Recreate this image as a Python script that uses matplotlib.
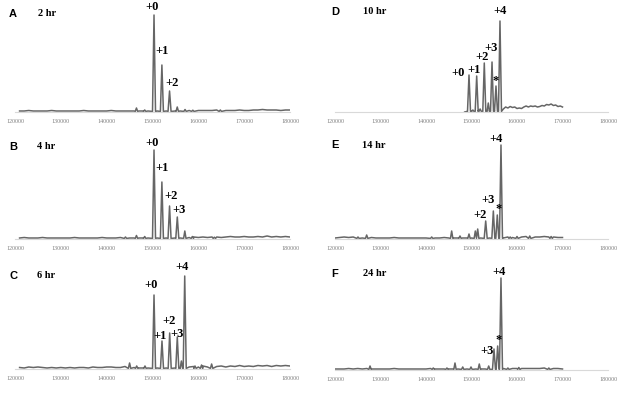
import numpy as np
import matplotlib.pyplot as plt

# ---- data (intensity in px above baseline) ----
a_peak_mass = [150330, 152050, 153720, 146500, 148300, 155400, 157100, 158800, 164800]
a_peak_h = [97, 47, 21, 4, 2, 5, 2.5, 1.8, 2]
a_base = [1, 1, 1.5, 1, 1, 1, 1, 1.5, 1, 1,
          1, 1, 1, 1, 1.5, 1, 1, 1, 1, 1,
          1.5, 1, 1, 1, 1, 1, 1, 1, 1, 1,
          1, 1, 1, 1, 1, 1, 1, 1.5, 1.5, 1.5,
          1.5, 1.5, 1.5, 2, 2.5, 1.5, 1.5, 1.5, 2, 1.5,
          1.5, 2, 2, 2.5, 2, 2, 2, 1.5, 2, 2]

b_peak_mass = [150330, 152050, 153720, 155410, 157050, 158700, 148300, 146500, 144100, 163500]
b_peak_h = [89, 57, 33, 22, 8, 2.5, 2.5, 3.5, 2, 1.8]
b_base = [1, 1.5, 1, 1, 1, 1.5, 1, 1, 1, 1,
          1, 1, 1.5, 1, 1, 1, 1, 1, 1.5, 1,
          1, 1, 1.5, 1, 1, 1, 1, 1, 1, 1,
          1, 1, 1, 1, 1, 1, 1, 1.5, 2, 1.5,
          2, 1.5, 2, 2, 1.5, 2, 2.5, 2, 2, 2.5,
          2, 2, 2.5, 2, 3, 2, 2.5, 2, 2.5, 2]

c_peak_mass = [150330, 152070, 153750, 155410, 157030, 145000, 146550, 148360,
               156300, 159270, 160700, 162900]
c_peak_h = [74, 28, 36, 32, 93, 6, 3, 3, 8, 3, 4, 5]
c_base = [1.5, 1, 2, 1.5, 2, 1.5, 1, 1.5, 1, 1.5,
          1, 1.5, 1, 1.5, 1.5, 1, 2, 1.5, 1.5, 2,
          2, 1.5, 1.5, 2.5, 2, 1.5, 1, 1, 1, 1,
          1, 1, 1, 1, 1, 1, 1, 2, 2.5, 2,
          3, 2, 3, 2.5, 3, 2, 3, 2.5, 3.5, 2.5,
          3, 2.5, 3.5, 3, 3.5, 2.5, 3.5, 3, 3.5, 3]

d_peak_mass = [149450, 151140, 152810, 154510, 155380, 156260, 153690, 151900, 150300]
d_peak_h = [37, 36, 49, 50, 26, 91, 9, 3, 2]
d_base = [0, 0.5, 0.5, 1, 2, 1, 1.5, 2.5, 1.5, 2,
          3, 2, 2, 2, 2, 2, 2, 3, 5, 4,
          5.5, 4.5, 5, 3.5, 4, 3.5, 5, 6, 5, 6,
          5.5, 6, 5, 5.5, 6.5, 6, 7.5, 7, 8, 6.5,
          7, 5.5, 6, 5]

e_peak_mass = [153120, 154800, 155670, 156480, 151360, 150840, 149450, 147470, 145640,
               141250, 126960, 125050, 158500, 160000, 162800, 167500]
e_peak_h = [18, 28, 24, 94, 10, 8, 5, 3, 8, 2, 4, 2, 2, 2.5, 3, 2.5]
e_base = [1, 1.5, 2, 1.5, 2, 1.5, 1, 1, 1.5, 1,
          1, 1, 1, 1.5, 1, 1, 1, 1, 1, 1,
          1, 1.5, 1, 1, 1.5, 1, 1, 1, 1, 1,
          1, 1, 1, 1, 1, 1, 1, 1, 2, 1.5,
          2, 2, 2.5, 2, 2, 2, 2.5, 2, 2, 1.5, 1.5]

f_peak_mass = [154940, 155750, 156480, 153780, 151710, 149890, 148070, 146370,
               144600, 141600, 127700, 158000, 160400, 167000]
f_peak_h = [21, 24, 92, 4, 6, 3, 3, 7, 2, 2, 4, 2, 2.5, 2]
f_base = [1, 1, 1, 1.5, 1, 1.5, 1, 1.5, 1, 1,
          1, 1, 1, 1.5, 1, 1, 1, 1, 1, 1,
          1, 1.5, 1, 1, 1, 1, 1, 1, 1, 1,
          1, 1, 1, 1, 1, 1, 1, 1.5, 1.5, 1.5,
          1.5, 1.5, 1.5, 1.5, 1.5, 1.5, 2, 1.5, 1.5, 1.5, 1]

# peak labels: text, mass, height
a_lab = ['+0', '+1', '+2']
a_lab_x = [149830, 152140, 154190]
a_lab_y = [105, 61, 29]
b_lab = ['+0', '+1', '+2', '+3']
b_lab_x = [149830, 152140, 153970, 155780]
b_lab_y = [96, 71, 43, 29]
c_lab = ['+0', '+1', '+2', '+3', '+4']
c_lab_x = [149600, 151640, 153530, 155380, 156370]
c_lab_y = [84, 33, 47.5, 35, 102]
d_lab = ['+0', '+1', '+2', '+3', '*', '+4']
d_lab_x = [147100, 150620, 152240, 154290, 155380, 156260]
d_lab_y = [39, 42, 55, 64, 31, 101]
e_lab = ['+2', '+3', '*', '+4']
e_lab_x = [151870, 153560, 155890, 155380]
e_lab_y = [24, 39, 30, 100]
f_lab = ['+3', '*', '+4']
f_lab_x = [153480, 156040, 156040]
f_lab_y = [19, 30, 98]

letters = ['A', 'B', 'C', 'D', 'E', 'F']
times = ['2 hr', '4 hr', '6 hr', '10 hr', '14 hr', '24 hr']
ticks = [120000, 130000, 140000, 150000, 160000, 170000, 180000]


def build_trace(base_start, base_step, base, pm, ph, n_major):
    mb = base_start + base_step * np.arange(len(base))
    base = np.array(base, dtype=float)
    widths = [330 if i < n_major else 260 for i in range(len(pm))]
    keep = np.ones(len(mb), bool)
    for m, w in zip(pm, widths):
        keep &= np.abs(mb - m) > w
    xs = list(mb[keep])
    ys = list(base[keep])
    for m, h, w in zip(pm, ph, widths):
        xs += [m - w, m, m + w]
        ys += [0.6, h, 0.6]
    order = np.argsort(xs)
    return np.array(xs)[order], np.array(ys)[order]


W, H = 633, 394
fig = plt.figure(figsize=(W / 100, H / 100), dpi=100)

panels = [
    (121000, 1000, a_base, a_peak_mass, a_peak_h, 3, a_lab, a_lab_x, a_lab_y),
    (121000, 1000, b_base, b_peak_mass, b_peak_h, 4, b_lab, b_lab_x, b_lab_y),
    (121000, 1000, c_base, c_peak_mass, c_peak_h, 5, c_lab, c_lab_x, c_lab_y),
    (148500, 500, d_base, d_peak_mass, d_peak_h, 6, d_lab, d_lab_x, d_lab_y),
    (120000, 1000, e_base, e_peak_mass, e_peak_h, 4, e_lab, e_lab_x, e_lab_y),
    (120000, 1000, f_base, f_peak_mass, f_peak_h, 3, f_lab, f_lab_x, f_lab_y),
]
# pixel layout: (x of 120000, x of 180000, baseline y)
boxes = [(15, 290, 112), (15, 290, 239), (15, 290, 369),
         (335, 608, 112), (335, 608, 239), (335, 608, 370)]
head_pos = [(13, 14, 38), (13, 147, 37), (13, 276, 37),
            (335, 12, 363), (335, 145, 362), (335, 274, 363)]

for i, (start, step, base, pm, ph, nmaj, labs, lx, ly) in enumerate(panels):
    x0, x1, yb = boxes[i]
    hgt = 105
    ax = fig.add_axes([x0 / W, (H - yb) / H, (x1 - x0) / W, hgt / H])
    xs, ys = build_trace(start, step, base, pm, ph, nmaj)
    ax.plot(xs, ys, color='#666666', lw=1.1)
    ax.set_xlim(120000, 180000)
    ax.set_ylim(0, hgt)
    for s in ['top', 'left', 'right']:
        ax.spines[s].set_visible(False)
    ax.spines['bottom'].set_color('#d9d9d9')
    ax.spines['bottom'].set_linewidth(0.8)
    ax.set_yticks([])
    ax.set_xticks(ticks)
    ax.set_xticklabels([str(t) for t in ticks])
    ax.tick_params(axis='x', length=0, pad=5, labelsize=4.3, labelcolor='#808080')
    for lab in ax.get_xticklabels():
        lab.set_family('Liberation Serif')
    ax.patch.set_alpha(0)
    for t, x, y in zip(labs, lx, ly):
        ax.text(x, y, t, ha='center', va='center', fontsize=9,
                fontweight='bold', family='Liberation Serif', color='black',
                clip_on=False)
    lx_px, ly_px, tx_px = head_pos[i]
    fig.text(lx_px / W, 1 - ly_px / H, letters[i], ha='center', va='center',
             fontsize=8, fontweight='bold', family='Liberation Sans')
    fig.text(tx_px / W, 1 - ly_px / H, times[i], ha='left', va='center',
             fontsize=7.5, fontweight='bold', family='Liberation Serif')

fig.savefig('out.png', dpi=100)
